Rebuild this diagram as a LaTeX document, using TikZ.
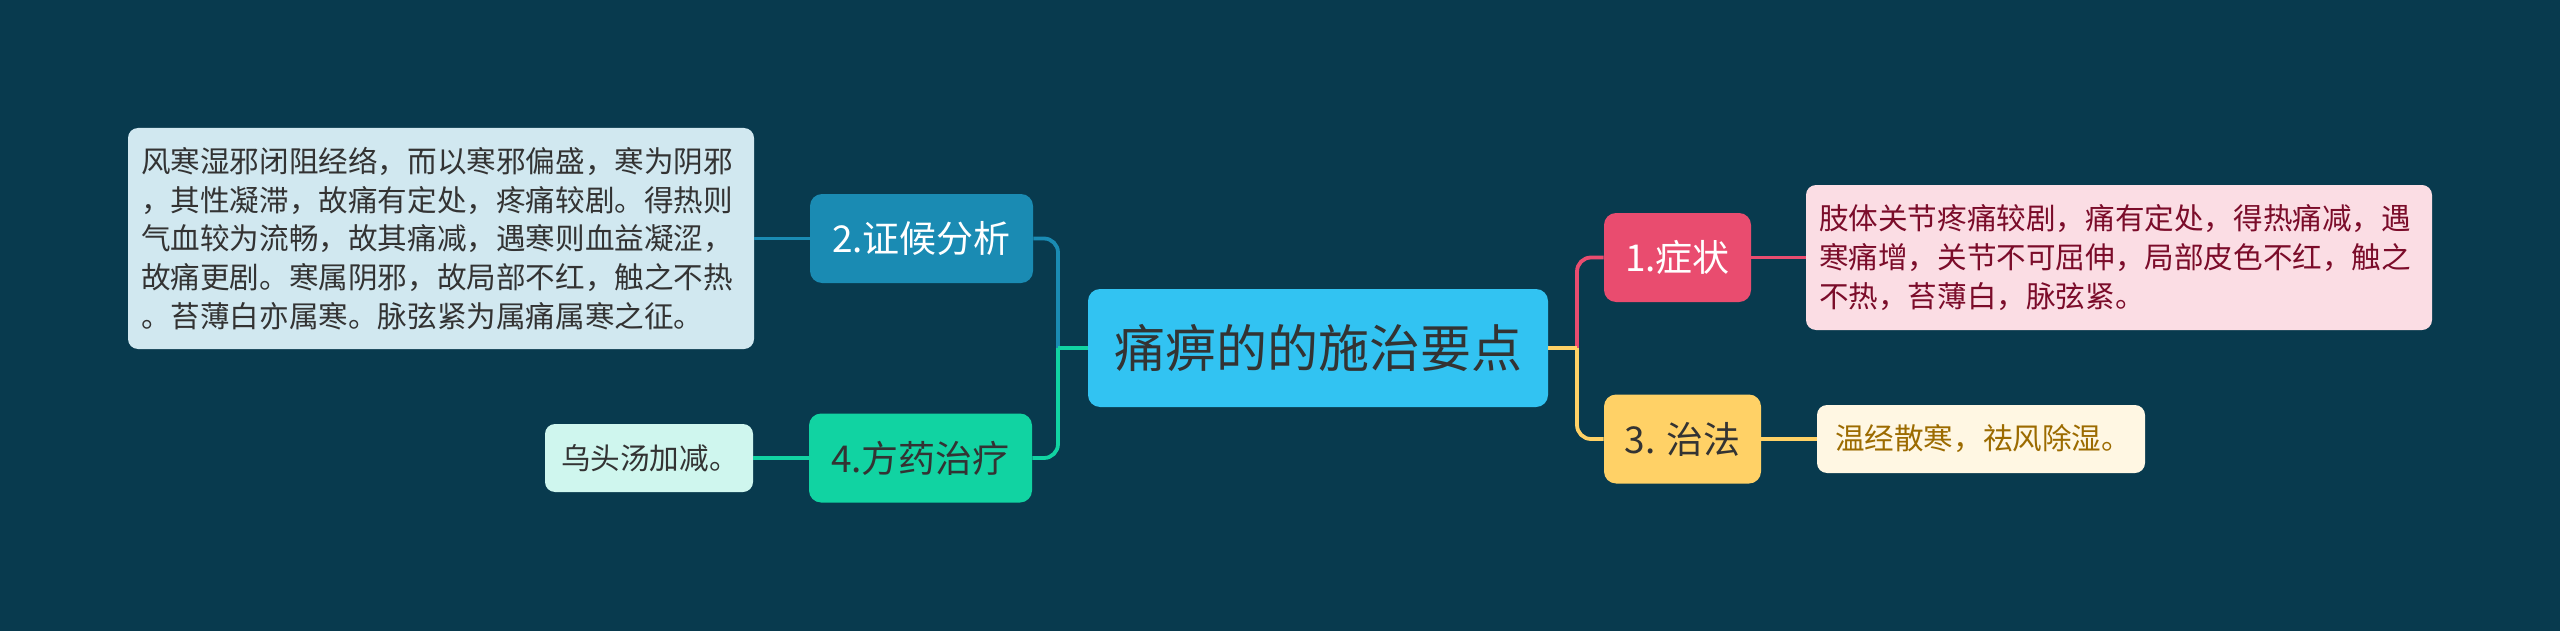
\documentclass[tikz,border=0pt]{standalone}
\usepackage{fontspec}
\setmainfont{Noto Sans CJK SC}
\usepackage{xcolor}
\usepackage{tikz}
\usetikzlibrary{positioning,calc,shapes}
\definecolor{bgcol}{HTML}{083A4E}
\definecolor{rootcol}{HTML}{32C3F2}
\definecolor{darktext}{HTML}{333333}
\definecolor{symcol}{HTML}{E94C6F}
\definecolor{symleafcol}{HTML}{FBDDE4}
\definecolor{symtext}{HTML}{7B0C2A}
\definecolor{anacol}{HTML}{1A8BB3}
\definecolor{analeafcol}{HTML}{D1E8F0}
\definecolor{curecol}{HTML}{FFD166}
\definecolor{cureleafcol}{HTML}{FFF7E3}
\definecolor{curetext}{HTML}{9C6B00}
\definecolor{fangcol}{HTML}{11D3A2}
\definecolor{fangleafcol}{HTML}{CFF6EE}
\tikzset{
  rootnode/.style={rectangle, rounded corners=6pt, fill=rootcol, text=darktext,
    minimum width=230pt, minimum height=59pt, inner sep=0pt,
    font=\fontsize{25.5}{30}\selectfont},
  branchnode/.style={rectangle, rounded corners=6pt, minimum height=44.5pt,
    inner sep=0pt, font=\fontsize{18.5}{22}\selectfont},
  leafnode/.style={rectangle, rounded corners=5pt, align=left, inner sep=0pt,
    font=\fontsize{14.8}{19.4}\selectfont},
  link/.style={line width=1.9pt},
}
\begin{document}
\begin{tikzpicture}[x=0.5pt,y=-0.5pt]
  \fill[bgcol] (0,0) rectangle (2560,631);
  \useasboundingbox (0,0) rectangle (2560,631);
  % root
  \node[rootnode] (root) at (1318,348) {痛痹的的施治要点};
  % right side
  \node[branchnode, fill=symcol, text=white, minimum width=73.5pt] (sym) at (1677.5,257.5) {1.症状};
  \node[leafnode, fill=symleafcol, text=symtext, minimum width=313pt, minimum height=72.5pt, text width=300pt]
    (symleaf) at (2119,257.5) {肢体关节疼痛较剧，痛有定处，得热痛减，遇\\寒痛增，关节不可屈伸，局部皮色不红，触之\\不热，苔薄白，脉弦紧。};
  \node[branchnode, fill=curecol, text=darktext, minimum width=78.5pt] (cure) at (1682.5,439) {3. 治法};
  \node[leafnode, fill=cureleafcol, text=curetext, minimum width=164pt, minimum height=34pt, text width=146pt]
    (cureleaf) at (1981,439) {温经散寒，祛风除湿。};
  % left side
  \node[branchnode, fill=anacol, text=white, minimum width=111.5pt] (ana) at (921.5,238.5) {2.证候分析};
  \node[leafnode, fill=analeafcol, text=darktext, minimum width=313pt, minimum height=110.5pt, text width=300pt]
    (analeaf) at (441,238.5) {风寒湿邪闭阻经络，而以寒邪偏盛，寒为阴邪\\，其性凝滞，故痛有定处，疼痛较剧。得热则\\气血较为流畅，故其痛减，遇寒则血益凝涩，\\故痛更剧。寒属阴邪，故局部不红，触之不热\\。苔薄白亦属寒。脉弦紧为属痛属寒之征。};
  \node[branchnode, fill=fangcol, text=darktext, minimum width=111.5pt] (fang) at (920.5,458) {4.方药治疗};
  \node[leafnode, fill=fangleafcol, text=darktext, minimum width=104pt, minimum height=34pt, text width=88pt]
    (fangleaf) at (649,458) {乌头汤加减。};
  % connectors
  \coordinate (jr) at (1577,348);
  \coordinate (jl) at (1058,348);
  \draw[link, symcol] (root.east) -- (jr);
  \draw[link, symcol, rounded corners=7pt] (jr) |- (sym.west);
  \draw[link, curecol] (root.east) -- (jr);
  \draw[link, curecol, rounded corners=7pt] (jr) |- (cure.west);
  \draw[link, anacol] (root.west) -- (jl);
  \draw[link, anacol, rounded corners=7pt] (jl) |- (ana.east);
  \draw[link, fangcol] (root.west) -- (jl);
  \draw[link, fangcol, rounded corners=7pt] (jl) |- (fang.east);
  \draw[link, symcol] (sym.east) -- (symleaf.west);
  \draw[link, curecol] (cure.east) -- (cureleaf.west);
  \draw[link, anacol] (ana.west) -- (analeaf.east);
  \draw[link, fangcol] (fang.west) -- (fangleaf.east);
\end{tikzpicture}
\end{document}
